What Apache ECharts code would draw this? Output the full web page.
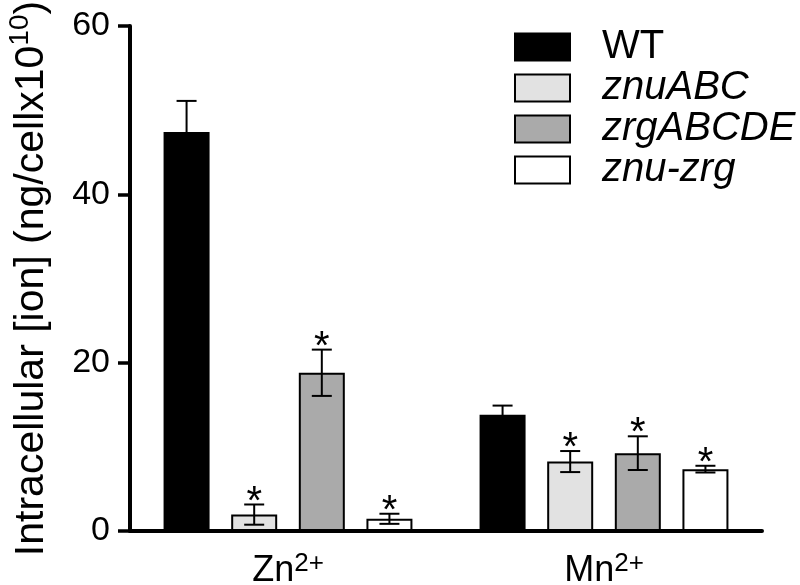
<!DOCTYPE html>
<html><head><meta charset="utf-8">
<script src="https://cdn.jsdelivr.net/npm/echarts@6/dist/echarts.min.js"></script>
<style>html,body{margin:0;padding:0;background:#fff}#c{width:800px;height:585px}</style>
</head><body><div id="c"></div>
<script>
// ---- data ----
const categories = ['Zn', 'Mn'];
const categorySup = ['2+', '2+'];
const seriesNames = ['WT', 'znuABC', 'zrgABCDE', 'znu-zrg'];
const wtValues = [47.4, 13.8];
const wtErrors = [3.7, 1.1];
const wtSignificant = [0, 0];
const znuValues = [1.95, 8.25];
const znuErrors = [1.2, 1.25];
const znuSignificant = [1, 1];
const zrgValues = [18.8, 9.25];
const zrgErrors = [2.75, 2.0];
const zrgSignificant = [1, 1];
const znuZrgValues = [1.45, 7.35];
const znuZrgErrors = [0.6, 0.4];
const znuZrgSignificant = [1, 1];
const yTicks = [0, 20, 40, 60];
const yName = 'Intracellular [ion] (ng/cellx10';
const yNameSup = '10';

// ---- styles ----
const FONT = 'Liberation Sans';
const colors = ['#000000', '#e2e2e2', '#aaaaaa', '#ffffff'];
const italicNames = [false, true, true, true];
const BAR_W = 46, BAR_GAP = 0.47;

const valuesList = [wtValues, znuValues, zrgValues, znuZrgValues];
const errorsList = [wtErrors, znuErrors, zrgErrors, znuZrgErrors];
const sigList = [wtSignificant, znuSignificant, zrgSignificant, znuZrgSignificant];

const chart = echarts.init(document.getElementById('c'), null, {renderer: 'canvas'});

function errRenderer(k) {
  return function (params, api) {
    const c = api.value(0), v = api.value(1), e = api.value(2), s = api.value(3);
    const pTop = api.coord([c, v + e]);
    const pBot = api.coord([c, v - e]);
    const x = pTop[0] + (k - 1.5) * BAR_W * (1 + BAR_GAP);
    const cap = 10;
    const st = {stroke: '#000', lineWidth: 2};
    const ch = [
      {type: 'line', shape: {x1: x, y1: pTop[1], x2: x, y2: pBot[1]}, style: st},
      {type: 'line', shape: {x1: x - cap, y1: pTop[1], x2: x + cap, y2: pTop[1]}, style: st},
      {type: 'line', shape: {x1: x - cap, y1: pBot[1], x2: x + cap, y2: pBot[1]}, style: st}
    ];
    if (s) {
      ch.push({type: 'text', style: {text: '*', x: x, y: pTop[1] - 2, align: 'center',
        verticalAlign: 'middle', fontSize: 40, fontFamily: FONT, fill: '#000'}});
    }
    return {type: 'group', children: ch};
  };
}

const series = [];
seriesNames.forEach((n, k) => {
  series.push({
    name: n, type: 'bar', data: valuesList[k], barWidth: BAR_W, barGap: (BAR_GAP * 100) + '%',
    itemStyle: {color: colors[k], borderColor: '#000', borderWidth: 2}, z: 2
  });
});
seriesNames.forEach((n, k) => {
  series.push({
    name: 'err-' + n, type: 'custom', z: 5, clip: false,
    renderItem: errRenderer(k),
    data: categories.map((c, i) => [i, valuesList[k][i], errorsList[k][i], sigList[k][i]])
  });
});

chart.setOption({
  animation: false,
  backgroundColor: '#fff',
  grid: {left: 130, right: 38, top: 26, bottom: 54, outerBoundsMode: 'none', containLabel: false},
  legend: {
    orient: 'vertical', left: 514, top: 27, padding: 0, itemWidth: 55, itemHeight: 27, itemGap: 1,
    icon: 'rect',
    textStyle: {fontSize: 40, fontFamily: FONT, color: '#000', padding: [0, 0, 0, 27]},
    data: seriesNames.map((n, k) => ({
      name: n,
      itemStyle: {color: colors[k], borderColor: '#000', borderWidth: 2},
      textStyle: {fontStyle: italicNames[k] ? 'italic' : 'normal'}
    }))
  },
  xAxis: {
    type: 'category', data: categories,
    axisLine: {lineStyle: {color: '#000', width: 4}},
    axisTick: {alignWithLabel: true, length: 12, lineStyle: {color: '#000', width: 3.5}},
    axisLabel: {
      margin: 20, color: '#000', fontFamily: FONT,
      formatter: (v, i) => v + '{sup|' + categorySup[i] + '}',
      rich: {
        sup: {fontSize: 26, fontFamily: FONT, color: '#000', lineHeight: 14, verticalAlign: 'top'}
      },
      fontSize: 36, lineHeight: 40
    }
  },
  yAxis: {
    type: 'value', min: yTicks[0], max: yTicks[yTicks.length - 1], interval: yTicks[1] - yTicks[0],
    axisLine: {show: true, lineStyle: {color: '#000', width: 4}},
    axisTick: {show: true, length: 12, lineStyle: {color: '#000', width: 3.5}},
    splitLine: {show: false},
    axisLabel: {margin: 20, fontSize: 34, fontFamily: FONT, color: '#000'},
    name: yName + '{sup|' + yNameSup + '})',
    nameLocation: 'middle', nameRotate: 90, nameGap: 72,
    nameTextStyle: {
      fontSize: 41, fontFamily: FONT, color: '#000', lineHeight: 52,
      rich: {sup: {fontSize: 28, fontFamily: FONT, color: '#000', lineHeight: 14, verticalAlign: 'top'}}
    }
  },
  series: series
});
</script></body></html>
